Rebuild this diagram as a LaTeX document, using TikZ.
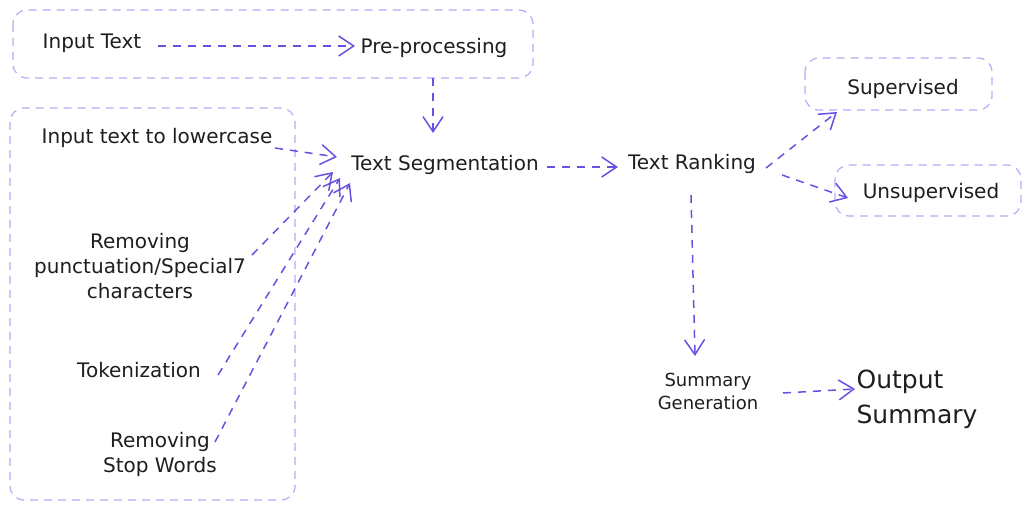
\documentclass[tikz,border=0pt]{standalone}
\usepackage{fontspec}
\setmainfont{DejaVu Sans}
\usetikzlibrary{arrows.meta}
\definecolor{arr}{HTML}{6A4FE0}
\definecolor{boxc}{HTML}{B8ABF5}
\definecolor{txt}{HTML}{1E1E1E}
\begin{document}
\begin{tikzpicture}[x=1pt,y=-1pt,
 lbl/.style={text=txt,font=\fontsize{20}{25}\selectfont,inner sep=0pt,align=center},
 grp/.style={draw=boxc,dash pattern=on 8pt off 6pt,rounded corners=14pt,line width=1.2pt},
 flow/.style={draw=arr,line width=1.5pt,dash pattern=on 8pt off 7pt,-{Straight Barb[length=15pt,width=20pt,line width=1.5pt]}}]
\useasboundingbox (0,0) rectangle (1031,510);
% groups
\draw[grp] (13,10) rectangle (533,78);
\draw[grp] (10,108) rectangle (295,500);
\draw[grp] (805,58) rectangle (992,110);
\draw[grp] (835,165) rectangle (1021,216);
% nodes
\node[lbl] (in) at (92,43) {Input Text};
\node[lbl] (pre) at (434,48) {Pre-processing};
\node[lbl] (low) at (157,138) {Input text to lowercase};
\node[lbl] (seg) at (445,165) {Text Segmentation};
\node[lbl] (punc) at (140,266) {Removing\\punctuation/Special7\\characters};
\node[lbl] (tok) at (139,370) {Tokenization};
\node[lbl] (stop) at (160,454) {Removing\\Stop Words};
\node[lbl] (rank) at (692,164) {Text Ranking};
\node[lbl] (sup) at (903,89) {Supervised};
\node[lbl] (uns) at (931,193) {Unsupervised};
\node[lbl,font=\fontsize{18}{23}\selectfont] (gen) at (708,391) {Summary\\Generation};
\node[lbl,font=\fontsize{25}{35}\selectfont,align=left] (out) at (917,399) {Output\\Summary};
% connectors
\draw[flow] ([shift={(66,3)}]in.center) -- ([shift={(-79,-2)}]pre.center);
\draw[flow] ([shift={(-1,30)}]pre.center) -- ([shift={(-12,-32)}]seg.center);
\draw[flow] ([shift={(118,10)}]low.center) -- ([shift={(-108,-8)}]seg.center);
\draw[flow] ([shift={(112,-11)}]punc.center) -- ([shift={(-112,7)}]seg.center);
\draw[flow] ([shift={(79,5)}]tok.center) -- ([shift={(-105,13)}]seg.center);
\draw[flow] ([shift={(55,-12)}]stop.center) -- ([shift={(-95,18)}]seg.center);
\draw[flow] ([shift={(102,2)}]seg.center) -- ([shift={(-74,3)}]rank.center);
\draw[flow] ([shift={(74,4)}]rank.center) -- ([shift={(-66,23)}]sup.center);
\draw[flow] ([shift={(90,11)}]rank.center) -- ([shift={(-83,5)}]uns.center);
\draw[flow] ([shift={(-1,31)}]rank.center) -- ([shift={(-13,-35)}]gen.center);
\draw[flow] ([shift={(75,2)}]gen.center) -- ([shift={(-62,-10)}]out.center);
\end{tikzpicture}
\end{document}
